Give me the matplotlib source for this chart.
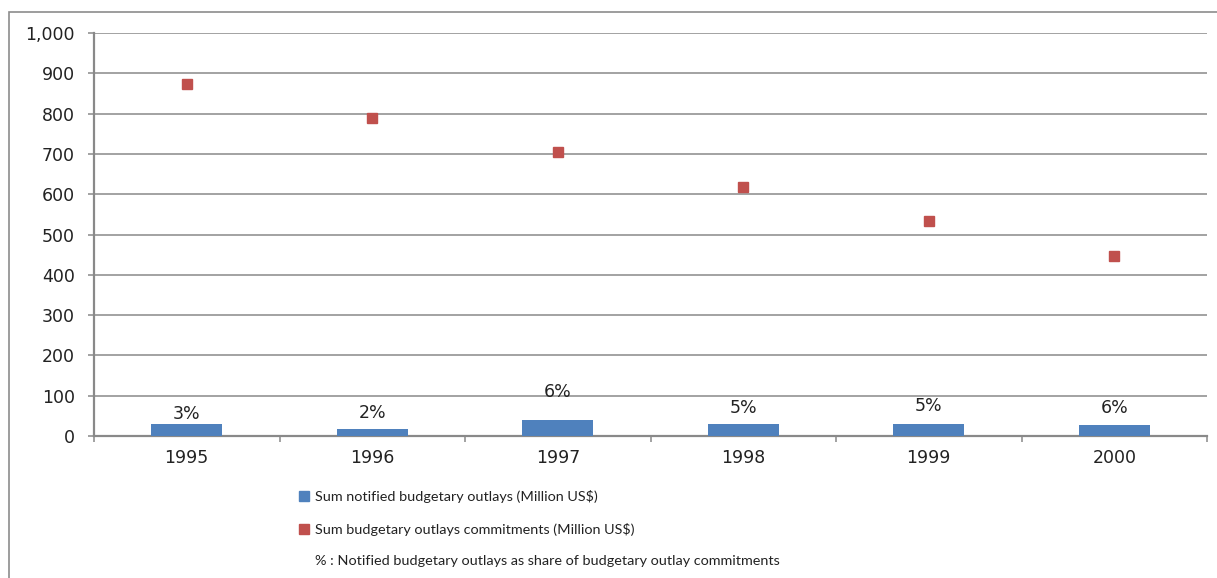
import matplotlib
matplotlib.use("Agg")
import matplotlib.pyplot as plt
from matplotlib.lines import Line2D
from matplotlib.patches import Rectangle
from matplotlib.ticker import FuncFormatter, MultipleLocator, FixedLocator
import numpy as np

plt.rcParams["font.family"] = ["DejaVu Sans"]

years = ["1995", "1996", "1997", "1998", "1999", "2000"]
notified = [31, 18, 40, 30, 29, 28]
commitments = [873, 789, 705, 618, 533, 447]
share_labels = ["3%", "2%", "6%", "5%", "5%", "6%"]

legend_labels = [
    "Sum notified budgetary outlays (Million US$)",
    "Sum budgetary outlays commitments (Million US$)",
    "% : Notified budgetary outlays as share of budgetary outlay commitments",
]

BLUE = "#4F81BD"
RED = "#C0504D"
GRID = "#898989"

W, H = 1217, 578
fig = plt.figure(figsize=(W / 100, H / 100), dpi=100)
ax = fig.add_axes([94 / W, 1 - 436 / H, (1207 - 94) / W, (436 - 33) / H])

x = np.arange(len(years))
ax.bar(x, notified, width=0.385, color=BLUE, zorder=3)
ax.plot(x, commitments, linestyle="none", marker="s", markersize=7.6,
        color=RED, zorder=4)

# data label offsets (pixels above bar top)
label_px = [10, 16, 28, 16, 18, 16.5]
for xi, v, lab, off in zip(x, notified, share_labels, label_px):
    ax.annotate(lab, (xi, v), xytext=(0, off * 0.72), textcoords="offset points",
                ha="center", va="center", fontsize=12.5, color="#222222",
                family="DejaVu Sans", zorder=5)

ax.set_xlim(-0.5, len(years) - 0.5)
ax.set_ylim(0, 1000)
ax.yaxis.set_major_locator(MultipleLocator(100))
ax.yaxis.set_major_formatter(FuncFormatter(lambda v, p: f"{int(v):,}"))
ax.grid(axis="y", color=GRID, linewidth=1.1, zorder=0)
ax.set_axisbelow(True)

ax.set_xticks(x)
ax.set_xticklabels(years)
ax.xaxis.set_minor_locator(FixedLocator(np.arange(-0.5, len(years), 1.0)))
ax.tick_params(axis="x", which="major", length=0, pad=9.5, labelsize=12.5, labelcolor="#222222")
ax.tick_params(axis="x", which="minor", length=4.3, width=1.1, color=GRID, direction="out")
ax.tick_params(axis="y", length=4.3, width=1.1, color=GRID, direction="out",
               labelsize=12.5, labelcolor="#222222", pad=9.5)

for s in ["top", "right"]:
    ax.spines[s].set_visible(False)
for s in ["left", "bottom"]:
    ax.spines[s].set_color(GRID)
    ax.spines[s].set_linewidth(1.6)

# outer chart border
fig.patches.append(Rectangle((9 / W, -0.5), 2.0, 1.5 - 12 / H, transform=fig.transFigure,
                             fill=False, edgecolor="#8c8c8c", linewidth=1.2))

handles = [
    Line2D([], [], linestyle="none", marker="s", markersize=7.2, color=BLUE),
    Line2D([], [], linestyle="none", marker="s", markersize=7.2, color=RED),
    Line2D([], [], linestyle="none", marker="none"),
]
leg = fig.legend(handles, legend_labels, loc="upper left",
                 bbox_to_anchor=(298 / W, 1 - 490 / H), frameon=False,
                 handlelength=0.85, handletextpad=0.3, labelspacing=1.36,
                 borderpad=0, borderaxespad=0,
                 prop={"family": "Lato", "size": 10.4})
for t in leg.get_texts():
    t.set_color("#222222")

fig.savefig("out.png", dpi=100)
